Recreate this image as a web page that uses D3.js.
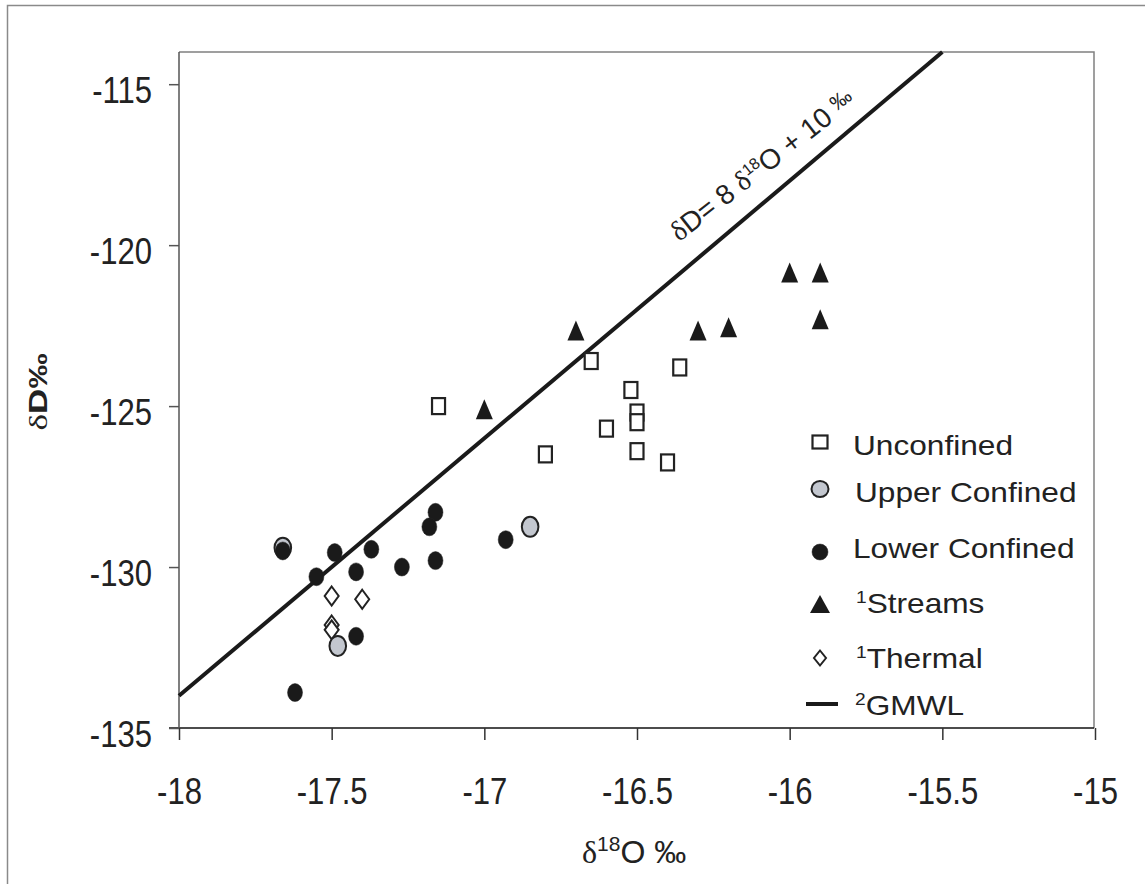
<!DOCTYPE html>
<meta charset="utf-8">
<style>
body, html { margin: 0; background: #fff; }
svg { display: block; }
.tick text { font-family: "Liberation Sans", Arial, sans-serif; font-size: 37px; fill: #222; }
.legend text { font-family: "Liberation Sans", Arial, sans-serif; font-size: 28px; fill: #222; }
</style>
<svg></svg>
<script src="https://d3js.org/d3.v7.min.js"></script>
<script>

// data: [δ18O, δD]
var unconfined = [[-17.15,-125.0],[-16.65,-123.6],[-16.36,-123.8],[-16.52,-124.5],[-16.5,-125.2],
                  [-16.5,-125.5],[-16.6,-125.7],[-16.8,-126.5],[-16.5,-126.4],[-16.4,-126.75]];
var upperConfined = [[-17.66,-129.4],[-16.85,-128.75],[-17.48,-132.45]];
var lowerConfined = [[-17.66,-129.5],[-17.49,-129.55],[-17.37,-129.45],[-17.55,-130.3],[-17.42,-130.15],
                     [-17.27,-130.0],[-17.16,-128.3],[-17.18,-128.75],[-17.16,-129.8],[-16.93,-129.15],
                     [-17.42,-132.15],[-17.62,-133.9]];
var streams = [[-17.0,-125.1],[-16.7,-122.65],[-16.3,-122.65],[-16.2,-122.55],[-16.0,-120.85],
               [-15.9,-120.85],[-15.9,-122.3]];
var thermal = [[-17.5,-130.9],[-17.4,-131.0],[-17.5,-131.8],[-17.5,-131.95]];

var xTicks = [-18,-17.5,-17,-16.5,-16,-15.5,-15];
var yTicks = [-135,-130,-125,-120,-115];
var gmwlSlope = 8, gmwlIntercept = 10;

var W = 1145, H = 884;
var pLeft = 179, pRight = 1094, pTop = 52, pBottom = 728;
var narrow = 0.84; // tick labels are condensed

var svg = d3.select('svg').attr('width', W).attr('height', H);

var x = d3.scaleLinear().domain([-18, -15]).range([pLeft, 1095]);
var y = d3.scaleLinear().domain([-135, -114]).range([pBottom, pTop]);

// outer frame (only left/top visible)
svg.append('rect').attr('x', 7.5).attr('y', 5.5).attr('width', 1300).attr('height', 1000)
  .attr('fill', 'none').attr('stroke', '#8a8a8a').attr('stroke-width', 1.5);

// plot frame top/right
svg.append('path')
  .attr('d', 'M' + pLeft + ',' + pTop + 'H' + pRight + 'V' + pBottom)
  .attr('fill', 'none').attr('stroke', '#808080').attr('stroke-width', 1.5);

var fmt = function (d) { return String(d); };

// axes
var xAxis = svg.append('g')
  .attr('transform', 'translate(0,' + pBottom + ')')
  .call(d3.axisBottom(x).tickValues(xTicks).tickSize(12).tickPadding(38).tickFormat(fmt));
xAxis.select('.domain').attr('d', 'M' + (pLeft - 10) + ',0H' + pRight).attr('stroke', '#111').attr('stroke-width', 1.5);
xAxis.selectAll('.tick line').attr('stroke', '#333').attr('stroke-width', 1.5);
xAxis.selectAll('.tick text').attr('transform', 'scale(' + narrow + ',1)');

var yAxis = svg.append('g')
  .attr('transform', 'translate(' + pLeft + ',0)')
  .call(d3.axisLeft(y).tickValues(yTicks).tickSize(10).tickPadding(17).tickFormat(fmt));
yAxis.select('.domain').attr('d', 'M0,' + pBottom + 'V' + pTop).attr('stroke', '#555').attr('stroke-width', 1.5);
yAxis.selectAll('.tick line').attr('stroke', '#555').attr('stroke-width', 1.5);
yAxis.selectAll('.tick text').attr('dy', '0.5em')
  .attr('x', -27 / narrow).attr('transform', 'scale(' + narrow + ',1)');

// GMWL line
var gx0 = -18, gx1 = (y.domain()[1] - gmwlIntercept) / gmwlSlope;
svg.append('line')
  .attr('x1', x(gx0)).attr('y1', y(gmwlSlope * gx0 + gmwlIntercept))
  .attr('x2', x(gx1)).attr('y2', y(gmwlSlope * gx1 + gmwlIntercept))
  .attr('stroke', '#1a1a1a').attr('stroke-width', 4);

// line label
var lx = -16.03;
var lbl = svg.append('g')
  .attr('transform', 'translate(' + x(lx) + ',' + y(gmwlSlope * lx + gmwlIntercept) + ') rotate(-38)')
  .append('text')
  .attr('y', -20).attr('text-anchor', 'middle')
  .style('font-family', '"Liberation Sans", Arial, sans-serif').style('font-size', '28px').attr('fill', '#222');
lbl.append('tspan').style('font-family', '"Liberation Serif", serif').text('δ');
lbl.append('tspan').text('D= 8 ');
lbl.append('tspan').style('font-family', '"Liberation Serif", serif').text('δ');
lbl.append('tspan').attr('dy', -10).style('font-size', '16px').text('18');
lbl.append('tspan').attr('dy', 10).text('O + 10 ');
lbl.append('tspan').attr('dy', -6).style('font-size', '21px').text('‰');

// marker shapes
function square(g, cx, cy, w, h) {
  g.append('rect').attr('x', cx - w / 2).attr('y', cy - h / 2).attr('width', w).attr('height', h)
    .attr('fill', '#fff').attr('stroke', '#222').attr('stroke-width', 2.2);
}
function ellipse(g, cx, cy, rx, ry, fill) {
  g.append('ellipse').attr('cx', cx).attr('cy', cy).attr('rx', rx).attr('ry', ry)
    .attr('fill', fill).attr('stroke', '#222').attr('stroke-width', fill === '#1a1a1a' ? 0.5 : 2);
}
function triangle(g, cx, cy, w, h) {
  g.append('path').attr('d', 'M' + cx + ',' + (cy - h / 2) + 'L' + (cx + w / 2) + ',' + (cy + h / 2) + 'L' + (cx - w / 2) + ',' + (cy + h / 2) + 'Z')
    .attr('fill', '#1a1a1a');
}
function diamond(g, cx, cy, w, h) {
  g.append('path').attr('d', 'M' + cx + ',' + (cy - h / 2) + 'L' + (cx + w / 2) + ',' + cy + 'L' + cx + ',' + (cy + h / 2) + 'L' + (cx - w / 2) + ',' + cy + 'Z')
    .attr('fill', '#fff').attr('stroke', '#222').attr('stroke-width', 2);
}

var pts = svg.append('g');
unconfined.forEach(function (d) { square(pts, x(d[0]), y(d[1]), 13, 16); });
thermal.forEach(function (d) { diamond(pts, x(d[0]), y(d[1]), 14, 19); });
upperConfined.forEach(function (d) { ellipse(pts, x(d[0]), y(d[1]), 8.3, 10, '#c3c7cf'); });
lowerConfined.forEach(function (d) { ellipse(pts, x(d[0]), y(d[1]), 7.5, 9, '#1a1a1a'); });
streams.forEach(function (d) { triangle(pts, x(d[0]), y(d[1]), 17, 20); });

// legend
var legend = svg.append('g').attr('class', 'legend');
var mx = 820;
square(legend, mx, 442, 15, 13);
ellipse(legend, mx, 489, 8.5, 8, '#c3c7cf');
ellipse(legend, mx, 552, 8, 8, '#1a1a1a');
triangle(legend, mx, 604, 20, 18);
diamond(legend, mx, 658, 12, 15);
legend.append('line').attr('x1', 806).attr('x2', 838).attr('y1', 704).attr('y2', 704)
  .attr('stroke', '#1a1a1a').attr('stroke-width', 4);

function legText(tx, ty, sup, label) {
  var t = legend.append('g').attr('transform', 'translate(' + tx + ',' + ty + ') scale(1.13,1)')
    .append('text');
  if (sup) t.append('tspan').attr('dy', -10).style('font-size', '17px').text(sup);
  t.append('tspan').attr('dy', sup ? 10 : 0).text(label);
}
legText(853, 455, null, 'Unconfined');
legText(855, 502, null, 'Upper Confined');
legText(853, 558, null, 'Lower Confined');
legText(856, 613, '1', 'Streams');
legText(856, 668, '1', 'Thermal');
legText(855, 715, '2', 'GMWL');

// axis titles
var xt = svg.append('text').attr('x', 582).attr('y', 863)
  .style('font-family', '"Liberation Sans", Arial, sans-serif').style('font-size', '32px').attr('fill', '#222');
xt.append('tspan').style('font-family', '"Liberation Serif", serif').text('δ');
xt.append('tspan').attr('dy', -12).style('font-size', '21px').text('18');
xt.append('tspan').attr('dy', 12).text('O ‰');

var yt = svg.append('g').attr('transform', 'translate(47,392) rotate(-90) scale(1.35,1)')
  .append('text').attr('text-anchor', 'middle')
  .style('font-family', '"Liberation Sans", Arial, sans-serif').style('font-size', '26px').attr('fill', '#222');
yt.append('tspan').style('font-family', '"Liberation Serif", serif').text('δ');
yt.append('tspan').style('font-weight', 'bold').text('D‰');

</script>
